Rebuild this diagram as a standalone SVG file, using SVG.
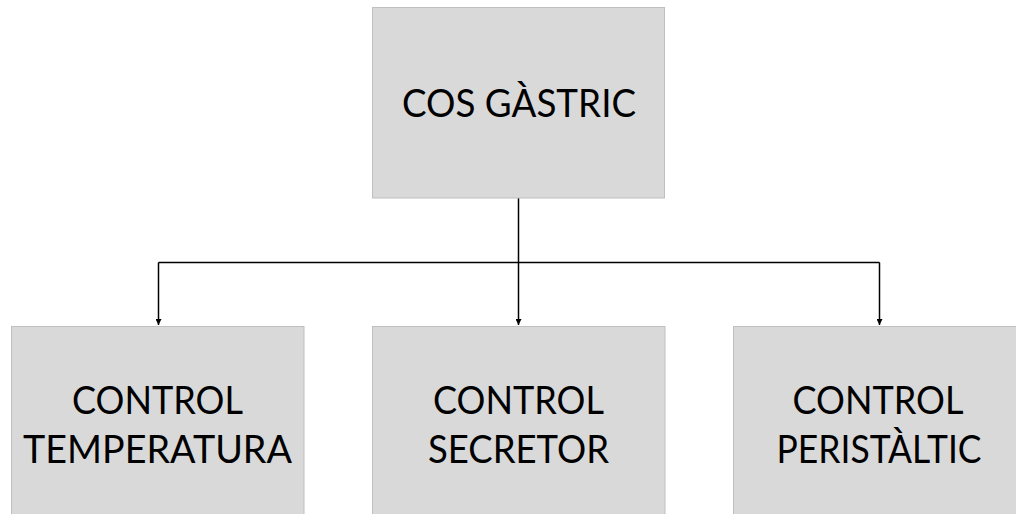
<svg xmlns="http://www.w3.org/2000/svg" width="1016" height="514" viewBox="0 0 1016 514">
<defs>
<style>
.box{fill:#d9d9d9;stroke:#bfbfbf;stroke-width:1}
.t{font-family:Lato,"Open Sans",sans-serif;font-size:38.5px;fill:#000;text-anchor:middle}
.c{stroke:#000;stroke-width:1.5;fill:none}
</style>
<marker id="ah" viewBox="0 0 10 10" refX="10" refY="5" markerWidth="6" markerHeight="6" markerUnits="userSpaceOnUse" orient="auto">
<path d="M0,0 L10,5 L0,10 z" fill="#000"/>
</marker>
</defs>
<rect width="1016" height="514" fill="#fff"/>
<g id="connectors">
<path class="c" d="M518.5,198 V262.5"/>
<path class="c" d="M158.5,262.5 H879.5"/>
<path class="c" d="M158.5,262.5 V325" marker-end="url(#ah)"/>
<path class="c" d="M518.5,262.5 V325" marker-end="url(#ah)"/>
<path class="c" d="M879.5,262.5 V325" marker-end="url(#ah)"/>
</g>
<g id="cos-gastric">
<rect class="box" x="372.5" y="7.5" width="292" height="190.5"/>
<text class="t" x="519" y="117" textLength="234" lengthAdjust="spacingAndGlyphs">COS GÀSTRIC</text>
</g>
<g id="control-temperatura">
<rect class="box" x="11.5" y="326.5" width="292.5" height="200"/>
<text class="t" x="157.5" y="414" textLength="171" lengthAdjust="spacingAndGlyphs">CONTROL</text>
<text class="t" x="157.5" y="463" textLength="269" lengthAdjust="spacingAndGlyphs">TEMPERATURA</text>
</g>
<g id="control-secretor">
<rect class="box" x="372.5" y="326.5" width="292.5" height="200"/>
<text class="t" x="518.5" y="414" textLength="171" lengthAdjust="spacingAndGlyphs">CONTROL</text>
<text class="t" x="518.5" y="463" textLength="181" lengthAdjust="spacingAndGlyphs">SECRETOR</text>
</g>
<g id="control-peristaltic">
<rect class="box" x="733.5" y="326.5" width="292.5" height="200"/>
<text class="t" x="878" y="414" textLength="171" lengthAdjust="spacingAndGlyphs">CONTROL</text>
<text class="t" x="879" y="463" textLength="205" lengthAdjust="spacingAndGlyphs">PERISTÀLTIC</text>
</g>
</svg>
